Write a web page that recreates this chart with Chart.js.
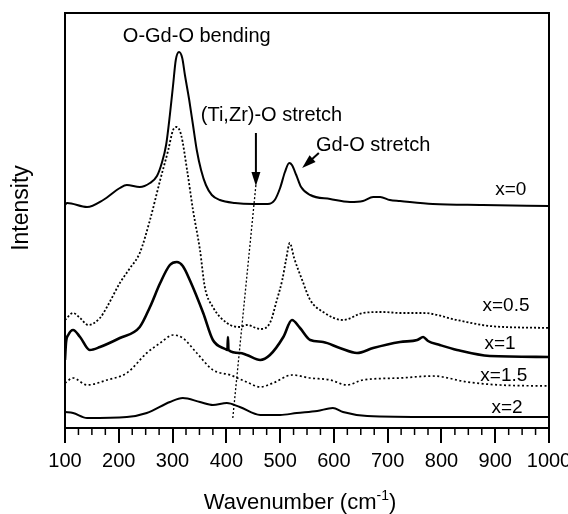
<!DOCTYPE html>
<html>
<head>
<meta charset="utf-8">
<script src="https://cdn.jsdelivr.net/npm/chart.js@4.4.0/dist/chart.umd.min.js"></script>
<style>
body{margin:0;background:#fff}
</style>
</head>
<body>
<canvas id="myChart" width="568" height="514"></canvas>
<script>

// Raman spectra (intensity in arbitrary units, offset per curve)
var wn0  = [100,104,141,171,202,215,239,258,271,280,288,295,301,306,312,318,323,331,338,345,353,362,373,388,416,450,477,490,500,509,517,522,530,539,556,593,630,654,673,686,704,723,784,877,1000];
var int0 = [225,227,223,230,242,245,243,247,254,267,285,315,345,370,378,372,355,330,305,280,260,245,235,230,227,226,226,230,242,258,267,265,255,243,235,231,228,229,233,233,230,229,226,225,224];

var wn05  = [100,115,128,143,165,178,202,221,239,258,277,292,301,308,316,327,338,351,360,375,401,425,438,463,481,494,504,511,518,526,541,556,580,617,654,691,723,766,829,890,1000];
var int05 = [110,117,112,105,112,123,147,162,177,210,250,280,300,303,295,260,220,180,143,123,107,103,105,101,107,130,150,170,187,172,150,130,118,110,117,118,117,117,110,104,102];

var wn1  = [100,102,106,115,128,146,165,202,239,258,277,295,308,319,332,357,375,398,402,403,404,425,438,463,481,506,522,537,556,580,611,643,673,723,755,766,775,797,829,890,1000];
var int1 = [70,88,95,100,93,80,83,92,103,123,147,165,168,164,150,117,90,81,80,93,80,77,75,70,75,93,110,102,90,88,82,77,82,88,90,93,89,85,80,74,73];

var wn15  = [100,115,141,178,215,252,277,301,319,345,375,407,438,463,487,522,556,593,624,654,723,784,848,909,1000];
var int15 = [47,52,45,50,57,77,87,95,92,77,60,55,48,43,47,55,52,50,45,50,52,54,48,45,44];

var wn2  = [100,115,141,215,252,295,319,351,375,401,425,463,500,531,569,598,617,662,784,1000];
var int2 = [18,17,12,13,17,28,32,28,25,27,23,15,15,17,19,22,18,14,13,13];

// slanted guide for the (Ti,Zr)-O band
var guideWn  = [412, 455];
var guideInt = [12, 245];

var seriesNames = ["x=0", "x=0.5", "x=1", "x=1.5", "x=2"];
var labelWn  = [929, 920, 909, 916, 922];
var labelInt = [235, 119, 81, 49, 17];

var noteText = ["O-Gd-O bending", "(Ti,Zr)-O stretch", "Gd-O stretch"];
var noteWn   = [345, 484, 673];
var noteInt  = [388, 309, 279];

// arrows: [fromWn, fromInt, toWn, toInt]
var arrows = [[455, 297, 455, 244], [572, 277, 541, 262]];

function pts(xs, ys){
  return xs.map(function(x, i){ return {x: x, y: ys[i]}; });
}

function line(data, width, dash){
  return {
    data: data,
    borderColor: '#000',
    borderWidth: width,
    borderDash: dash || [],
    pointRadius: 0,
    fill: false,
    cubicInterpolationMode: 'monotone'
  };
}

var FONT = '"Liberation Sans", Arial, sans-serif';

function arrow(ctx, x1, y1, x2, y2, len, half){
  var ang = Math.atan2(y2 - y1, x2 - x1);
  var c = Math.cos(ang), s = Math.sin(ang);
  ctx.beginPath();
  ctx.moveTo(x1, y1);
  ctx.lineTo(x2 - c * len * 0.7, y2 - s * len * 0.7);
  ctx.stroke();
  ctx.beginPath();
  ctx.moveTo(x2, y2);
  ctx.lineTo(x2 - c * len + s * half, y2 - s * len - c * half);
  ctx.lineTo(x2 - c * len - s * half, y2 - s * len + c * half);
  ctx.closePath();
  ctx.fill();
}

var decor = {
  id: 'decor',
  afterDatasetsDraw: function(chart){
    var ctx = chart.ctx, a = chart.chartArea;
    var xs = chart.scales.x, ys = chart.scales.y;
    ctx.save();
    ctx.strokeStyle = '#000';
    ctx.fillStyle = '#000';

    // frame
    ctx.lineWidth = 2;
    ctx.strokeRect(a.left, a.top, a.right - a.left, a.bottom - a.top);

    // minor ticks
    ctx.lineWidth = 1.5;
    for (var w = 125; w < 1000; w += 25) {
      if (w % 100 === 0) continue;
      var px = xs.getPixelForValue(w);
      ctx.beginPath();
      ctx.moveTo(px, a.bottom);
      ctx.lineTo(px, a.bottom + 7);
      ctx.stroke();
    }

    // arrows
    ctx.lineWidth = 2;
    arrows.forEach(function(r){
      arrow(ctx, xs.getPixelForValue(r[0]), ys.getPixelForValue(r[1]),
                 xs.getPixelForValue(r[2]), ys.getPixelForValue(r[3]), 14, 4.5);
    });

    // notes and curve labels
    ctx.textAlign = 'center';
    ctx.textBaseline = 'alphabetic';
    ctx.font = '20px ' + FONT;
    noteText.forEach(function(t, i){
      ctx.fillText(t, xs.getPixelForValue(noteWn[i]), ys.getPixelForValue(noteInt[i]));
    });
    ctx.font = '19px ' + FONT;
    seriesNames.forEach(function(t, i){
      ctx.fillText(t, xs.getPixelForValue(labelWn[i]), ys.getPixelForValue(labelInt[i]));
    });

    // x title with superscript
    var t1 = 'Wavenumber (cm', t2 = '-1', t3 = ')';
    ctx.font = '22px ' + FONT;
    var w1 = ctx.measureText(t1).width, w3 = ctx.measureText(t3).width;
    ctx.font = '14px ' + FONT;
    var w2 = ctx.measureText(t2).width;
    var x0 = 300 - (w1 + w2 + w3) / 2, base = 509;
    ctx.textAlign = 'left';
    ctx.font = '22px ' + FONT;
    ctx.fillText(t1, x0, base);
    ctx.font = '14px ' + FONT;
    ctx.fillText(t2, x0 + w1, base - 9);
    ctx.font = '22px ' + FONT;
    ctx.fillText(t3, x0 + w1 + w2, base);

    // y title
    ctx.translate(28, 208);
    ctx.rotate(-Math.PI / 2);
    ctx.textAlign = 'center';
    ctx.font = '23px ' + FONT;
    ctx.fillText('Intensity', 0, 0);
    ctx.restore();
  }
};

new Chart("myChart", {
  type: "line",
  data: {
    datasets: [
      line(pts(wn0, int0), 2),
      line(pts(wn05, int05), 1.8, [2, 2]),
      line(pts(wn1, int1), 2.6),
      line(pts(wn15, int15), 1.7, [2, 2.5]),
      line(pts(wn2, int2), 2),
      line(pts(guideWn, guideInt), 1.3, [2, 2])
    ]
  },
  options: {
    responsive: false,
    animation: false,
    layout: {autoPadding: false, padding: {left: 65, right: 19, top: 13, bottom: 0}},
    plugins: {legend: {display: false}, tooltip: {enabled: false}},
    scales: {
      x: {
        type: 'linear',
        min: 100,
        max: 1000,
        afterFit: function(s){ s.height = 86; s.paddingLeft = 0; s.paddingRight = 0; },
        border: {display: false},
        grid: {drawOnChartArea: false, drawTicks: true, tickLength: 15, color: '#000', lineWidth: 2},
        ticks: {
          stepSize: 100, padding: 6, color: '#000', maxRotation: 0,
          font: {size: 20, family: FONT},
          callback: function(v){ return String(v); }
        }
      },
      y: {
        display: false,
        min: 2,
        max: 417
      }
    }
  },
  plugins: [decor]
});
</script>
</body>
</html>
